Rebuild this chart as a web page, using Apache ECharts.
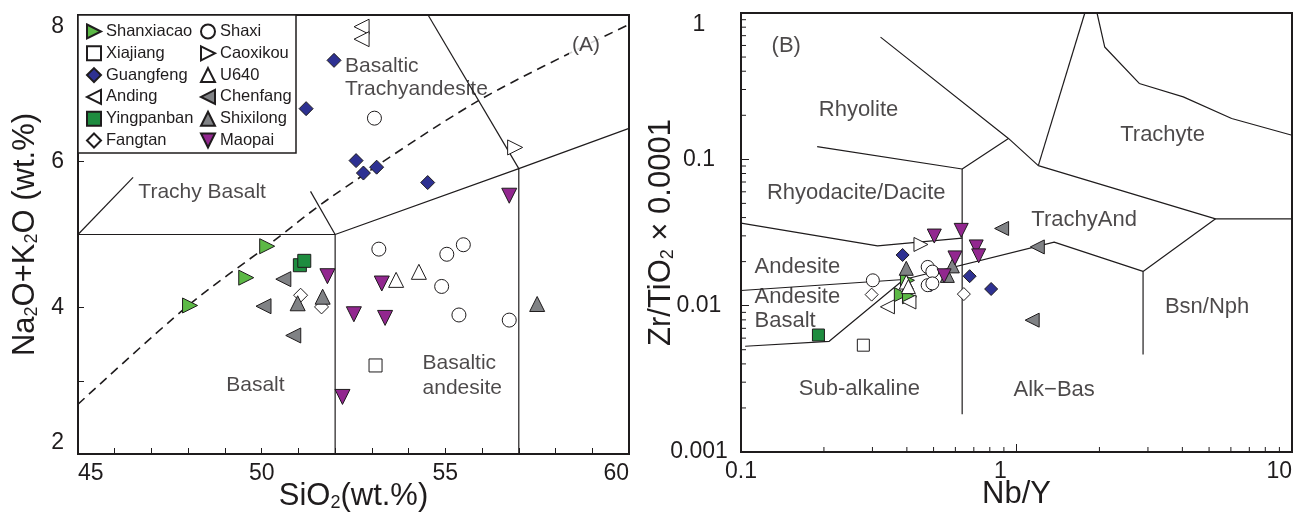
<!DOCTYPE html>
<html>
<head>
<meta charset="utf-8">
<script src="https://cdn.jsdelivr.net/npm/echarts@6/dist/echarts.min.js"></script>
<style>html,body{margin:0;padding:0;background:#fff;}#chart{width:1294px;height:513px;}</style>
</head>
<body>
<div id="chart"></div>
<script>
// ---------- Data: Panel A (TAS, SiO2 vs Na2O+K2O) ----------
const shanxiacaoA = [[48.05,4.03],[49.58,4.41],[50.15,4.84]];
const shaxiA      = [[53.07,6.59],[53.19,4.80],[55.04,4.73],[55.49,4.86],[54.90,4.29],[55.37,3.90],[56.74,3.83]];
const xiajiangA   = [[53.10,3.21]];
const caoxikouA   = [[56.90,6.19]];
const guangfengA  = [[51.97,7.38],[51.21,6.72],[52.57,6.01],[52.77,5.84],[53.13,5.92],[54.52,5.71]];
const u640A       = [[53.66,4.38],[54.28,4.49]];
const andingA     = [[52.72,7.84],[52.72,7.67]];
const chenfangA   = [[50.59,4.39],[50.05,4.02],[50.86,3.62]];
const yingpanbanA = [[51.04,4.58],[51.16,4.64]];
const shixilongA  = [[50.98,4.06],[51.66,4.15],[57.50,4.05]];
const fangtanA    = [[51.06,4.17],[51.63,4.01]];
const maopaiA     = [[51.79,4.43],[53.27,4.33],[52.51,3.91],[53.36,3.86],[52.20,2.78],[56.74,5.53]];

// ---------- Data: Panel B (Nb/Y vs Zr/TiO2*0.0001) ----------
const shanxiacaoB = [[0.382,0.0119],[0.409,0.0115],[0.402,0.0149]];
const shaxiB      = [[0.301,0.0149],[0.476,0.0184],[0.495,0.0171],[0.476,0.0138],[0.495,0.0142]];
const xiajiangB   = [[0.278,0.00537]];
const caoxikouB   = [[0.450,0.0262]];
const guangfengB  = [[0.386,0.0222],[0.489,0.0138],[0.676,0.0159],[0.809,0.0130]];
const u640B       = [[0.398,0.0145],[0.405,0.0135]];
const andingB     = [[0.340,0.00982],[0.407,0.0106]];
const chenfangB   = [[0.883,0.0337],[1.19,0.0252],[1.14,0.00796]];
const yingpanbanB = [[0.191,0.0063]];
const shixilongB  = [[0.398,0.0180],[0.585,0.0187],[0.561,0.0161]];
const fangtanB    = [[0.298,0.0119],[0.644,0.0120]];
const maopaiB     = [[0.503,0.0299],[0.630,0.0327],[0.714,0.0252],[0.729,0.0219],[0.598,0.0212],[0.546,0.0160]];

// ---------- Classification boundaries ----------
const tasSolid = [
  [[45,5],[52,5],[52,2]],
  [[45,5],[46.5,5.78]],
  [[52,5],[51.33,5.59]],
  [[52,5],[57,5.9],[57,2]],
  [[57,5.9],[60,6.45]],
  [[57,5.9],[54.53,8]]
];
const tasDashed = [[45,2.68],[48,4.03],[50.17,4.85],[51.86,5.5],[55.94,6.84],[60,7.87]];

const wfLines = [
  [[0.321,0.684],[0.935,0.139],[1.20,0.0906]],
  [[0.189,0.122],[0.635,0.0859],[0.935,0.139]],
  [[0.635,0.0859],[0.635,0.00181]],
  [[1.20,0.0906],[1.77,1.0]],
  [[1.96,1.0],[2.09,0.586],[2.79,0.330],[4.03,0.267],[6.04,0.190],[10,0.146]],
  [[1.20,0.0906],[5.28,0.0392],[10,0.0392]],
  [[5.28,0.0392],[2.88,0.01714],[2.88,0.00464]],
  [[0.1,0.0367],[0.313,0.0256],[0.635,0.0289]],
  [[0.1,0.0127],[0.39,0.0151],[1.37,0.0272],[2.88,0.01714]],
  [[0.1035,0.00528],[0.209,0.00571],[0.39,0.0151]]
];

// ---------- Axis ticks ----------
const xTicksA = [45,50,55,60];
const yTicksA = [2,4,6,8];
const xMinorB = [0.2,0.3,0.4,0.5,0.6,0.7,0.8,0.9,2,3,4,5,6,7,8,9];
const yMinorB = [0.002,0.003,0.004,0.005,0.006,0.007,0.008,0.009,0.02,0.03,0.04,0.05,0.06,0.07,0.08,0.09,0.2,0.3,0.4,0.5,0.6,0.7,0.8,0.9];

// ---------- Field labels ----------
const labelsA = [
  {name:'Basaltic\nTrachyandesite', value:[52.27,7.14], align:'left', lh:23},
  {name:'Trachy Basalt', value:[48.38,5.58], align:'center', lh:22},
  {name:'Basalt', value:[49.83,2.94], align:'center', lh:22},
  {name:'Basaltic\nandesite', value:[54.38,3.07], align:'left', lh:25},
  {name:'(A)', value:[58.83,7.59], align:'center', lh:22, bg:true}
];
const labelsB = [
  {name:'Rhyolite', value:[0.267,0.219], align:'center', lh:22},
  {name:'Trachyte', value:[3.39,0.146], align:'center', lh:22},
  {name:'Rhyodacite/Dacite', value:[0.262,0.0586], align:'center', lh:22},
  {name:'TrachyAnd', value:[1.76,0.0384], align:'center', lh:22},
  {name:'Andesite', value:[0.112,0.0183], align:'left', lh:22},
  {name:'Andesite\nBasalt', value:[0.112,0.00955], align:'left', lh:24},
  {name:'Bsn/Nph', value:[4.92,0.00977], align:'center', lh:22},
  {name:'Sub-alkaline', value:[0.269,0.00269], align:'center', lh:22},
  {name:'Alk\u2212Bas', value:[1.37,0.00265], align:'center', lh:22},
  {name:'(B)', value:[0.146,0.60], align:'center', lh:22}
];

const legendCol1 = ['Shanxiacao','Xiajiang','Guangfeng','Anding','Yingpanban','Fangtan'];
const legendCol2 = ['Shaxi','Caoxikou','U640','Chenfang','Shixilong','Maopai'];

// ---------- Styles ----------
const FONT = '"Liberation Sans", Arial, Helvetica, sans-serif';
const INK = '#1f1c1d';
const RIGHT = 'path://M0,0L10,5L0,10Z';
const LEFT = 'path://M10,0L0,5L10,10Z';
const DOWN = 'path://M0,0L10,0L5,10Z';
const UP = 'path://M5,0L10,10L0,10Z';
const groupStyle = {
  Shanxiacao: {symbol:RIGHT, color:'#5cb946', size:15},
  Shaxi:      {symbol:'circle', color:'#ffffff', size:14},
  Xiajiang:   {symbol:'rect', color:'#ffffff', size:13},
  Caoxikou:   {symbol:RIGHT, color:'#ffffff', size:15},
  Guangfeng:  {symbol:'diamond', color:'#2e3192', size:14},
  U640:       {symbol:UP, color:'#ffffff', size:15},
  Anding:     {symbol:LEFT, color:'#ffffff', size:15},
  Chenfang:   {symbol:LEFT, color:'#808285', size:15},
  Yingpanban: {symbol:'rect', color:'#1e8c3f', size:13},
  Shixilong:  {symbol:UP, color:'#808285', size:15},
  Fangtan:    {symbol:'diamond', color:'#ffffff', size:14},
  Maopai:     {symbol:DOWN, color:'#92278f', size:15}
};
const dataA = {Shanxiacao:shanxiacaoA, Shaxi:shaxiA, Xiajiang:xiajiangA, Caoxikou:caoxikouA, Guangfeng:guangfengA, U640:u640A, Anding:andingA, Chenfang:chenfangA, Yingpanban:yingpanbanA, Shixilong:shixilongA, Fangtan:fangtanA, Maopai:maopaiA};
const dataB = {Shanxiacao:shanxiacaoB, Shaxi:shaxiB, Xiajiang:xiajiangB, Caoxikou:caoxikouB, Guangfeng:guangfengB, U640:u640B, Anding:andingB, Chenfang:chenfangB, Yingpanban:yingpanbanB, Shixilong:shixilongB, Fangtan:fangtanB, Maopai:maopaiB};

const series = [];
const lineStyleSolid = {color: INK, width: 1.2};
tasSolid.forEach((seg, i) => series.push({type:'line', name:'tasLine'+i, xAxisIndex:0, yAxisIndex:0, data:seg, showSymbol:false, symbol:'none', silent:true, lineStyle:lineStyleSolid, z:1, animation:false}));
series.push({type:'line', name:'tasDash', xAxisIndex:0, yAxisIndex:0, data:tasDashed, showSymbol:false, symbol:'none', smooth:0.3, silent:true, lineStyle:{color:INK, width:1.6, type:[9,6]}, z:1, animation:false});
wfLines.forEach((seg, i) => series.push({type:'line', name:'wfLine'+i, xAxisIndex:1, yAxisIndex:1, data:seg, showSymbol:false, symbol:'none', silent:true, lineStyle:lineStyleSolid, z:1, animation:false}));

function textSeries(list, xi) {
  return {
    type:'scatter', name:'labels'+xi, xAxisIndex:xi, yAxisIndex:xi, symbolSize:0, silent:true, z:3, animation:false,
    data: list.map(d => ({
      name:d.name, value:d.value,
      label:{show:true, position:'inside', formatter:'{b}', align:d.align, verticalAlign:'middle', fontSize: xi===0?21:22, lineHeight:d.lh, fontFamily:FONT, color:INK,
        backgroundColor: d.bg ? '#fff' : 'transparent', padding: d.bg ? [0,3,0,3] : 0}
    }))
  };
}
series.push(textSeries(labelsA, 0));
series.push(textSeries(labelsB, 1));

const allNames = legendCol1.concat(legendCol2);
[['A',dataA,0],['B',dataB,1]].forEach(([p, dat, xi]) => {
  allNames.forEach(n => {
    const st = groupStyle[n];
    series.push({
      type:'scatter', name:n, xAxisIndex:xi, yAxisIndex:xi, data:dat[n],
      symbol:st.symbol, symbolSize: xi===0 ? st.size : st.size-1,
      itemStyle:{color:st.color, borderColor:INK, borderWidth:1, opacity:1},
      z:4, animation:false, silent:true
    });
  });
});

// minor ticks for log axes (panel B)
series.push({
  type:'custom', name:'minorX', xAxisIndex:1, yAxisIndex:1, silent:true, z:5, animation:false,
  data: xMinorB.map(v => [v, 0.001]),
  renderItem: (params, api) => {
    const p = api.coord([api.value(0), api.value(1)]);
    return {type:'line', shape:{x1:p[0], y1:p[1], x2:p[0], y2:p[1]-5}, style:{stroke:INK, lineWidth:1}};
  }
});
series.push({
  type:'custom', name:'minorY', xAxisIndex:1, yAxisIndex:1, silent:true, z:5, animation:false,
  data: yMinorB.map(v => [0.1, v]),
  renderItem: (params, api) => {
    const p = api.coord([api.value(0), api.value(1)]);
    return {type:'line', shape:{x1:p[0], y1:p[1], x2:p[0]+5, y2:p[1]}, style:{stroke:INK, lineWidth:1}};
  }
});

const NAMESIZE = 31;
const subRich = {
  t:{fontSize:NAMESIZE, fontFamily:FONT, color:INK},
  s:{fontSize:18, fontFamily:FONT, color:INK, padding:[13,0,0,0]}
};
const axisLine = {show:true, lineStyle:{color:INK, width:2}};
const tickLabel = {fontSize:23, fontFamily:FONT, color:INK};
const fmtLog = v => {
  const s = String(Number(Number(v).toPrecision(2)));
  return s === '1' ? '{o|1}' : s;
};

const option = {
  backgroundColor:'#fff',
  animation:false,
  textStyle:{fontFamily:FONT},
  grid:[
    {left:78, top:15, width:551, height:439, show:true, borderColor:INK, borderWidth:2, outerBoundsMode:'none', containLabel:false},
    {left:741, top:13, width:551, height:439, show:true, borderColor:INK, borderWidth:2, outerBoundsMode:'none', containLabel:false}
  ],
  xAxis:[
    {gridIndex:0, type:'value', min:xTicksA[0], max:xTicksA[xTicksA.length-1], interval:xTicksA[1]-xTicksA[0],
     axisLine, axisTick:{show:true, inside:true, length:6, lineStyle:{color:INK}},
     minorTick:{show:true, splitNumber:5, length:6, lineStyle:{color:INK}},
     splitLine:{show:false}, minorSplitLine:{show:false},
     axisLabel:Object.assign({margin:8, alignMinLabel:'left', alignMaxLabel:'right'}, tickLabel),
     name:'{t|SiO}{s|2}{t|(wt.%)}', nameLocation:'middle', nameGap:27, nameMoveOverlap:false,
     nameTextStyle:{fontSize:NAMESIZE, fontFamily:FONT, color:INK, verticalAlign:'top', rich:subRich}},
    {gridIndex:1, type:'log', logBase:10, min:0.1, max:10,
     axisLine, axisTick:{show:true, inside:true, length:8, lineStyle:{color:INK}},
     splitLine:{show:false},
     axisLabel:Object.assign({margin:8, formatter:fmtLog, alignMaxLabel:'right',
       rich:{o:{fontSize:23, fontFamily:FONT, color:INK, padding:[0,32,0,0]}}}, tickLabel),
     name:'Nb/Y', nameLocation:'middle', nameGap:27, nameMoveOverlap:false,
     nameTextStyle:{fontSize:NAMESIZE, fontFamily:FONT, color:INK, verticalAlign:'top'}}
  ],
  yAxis:[
    {gridIndex:0, type:'value', min:yTicksA[0], max:yTicksA[yTicksA.length-1], interval:yTicksA[1]-yTicksA[0],
     axisLine, axisTick:{show:true, inside:true, length:6, lineStyle:{color:INK}},
     minorTick:{show:true, splitNumber:2, length:6, lineStyle:{color:INK}},
     splitLine:{show:false}, minorSplitLine:{show:false},
     axisLabel:Object.assign({margin:14, verticalAlignMaxLabel:'top', verticalAlignMinLabel:'bottom'}, tickLabel),
     name:'{t|Na}{s|2}{t|O+K}{s|2}{t|O (wt.%)}', nameLocation:'middle', nameGap:37, nameMoveOverlap:false,
     nameTextStyle:{fontSize:NAMESIZE, fontFamily:FONT, color:INK, rich:subRich}},
    {gridIndex:1, type:'log', logBase:10, min:0.001, max:1,
     axisLine, axisTick:{show:true, inside:true, length:8, lineStyle:{color:INK}},
     splitLine:{show:false},
     axisLabel:Object.assign({margin:42, align:'center', formatter:v => String(Number(Number(v).toPrecision(2))), verticalAlignMaxLabel:'top'}, tickLabel),
     name:'{t|Zr/TiO}{s|2}{t| \u00d7 0.0001}', nameLocation:'middle', nameGap:64, nameMoveOverlap:false,
     nameTextStyle:{fontSize:NAMESIZE, fontFamily:FONT, color:INK, rich:subRich}}
  ],
  legend:[
    {data:legendCol1, orient:'vertical', left:86, top:23, itemGap:4.8, itemWidth:14, itemHeight:14, padding:0, selectedMode:false,
     textStyle:{fontSize:16.5, lineHeight:15, fontFamily:FONT, color:INK}},
    {data:legendCol2, orient:'vertical', left:200, top:23, itemGap:4.8, itemWidth:14, itemHeight:14, padding:0, selectedMode:false,
     textStyle:{fontSize:16.5, lineHeight:15, fontFamily:FONT, color:INK}}
  ],
  graphic:[
    {type:'rect', shape:{x:78, y:15, width:218, height:138}, style:{fill:'#fff', stroke:INK, lineWidth:1.5}, z:3, silent:true}
  ],
  series
};

const chart = echarts.init(document.getElementById('chart'), null, {renderer:'canvas'});
chart.setOption(option);
</script>
</body>
</html>
